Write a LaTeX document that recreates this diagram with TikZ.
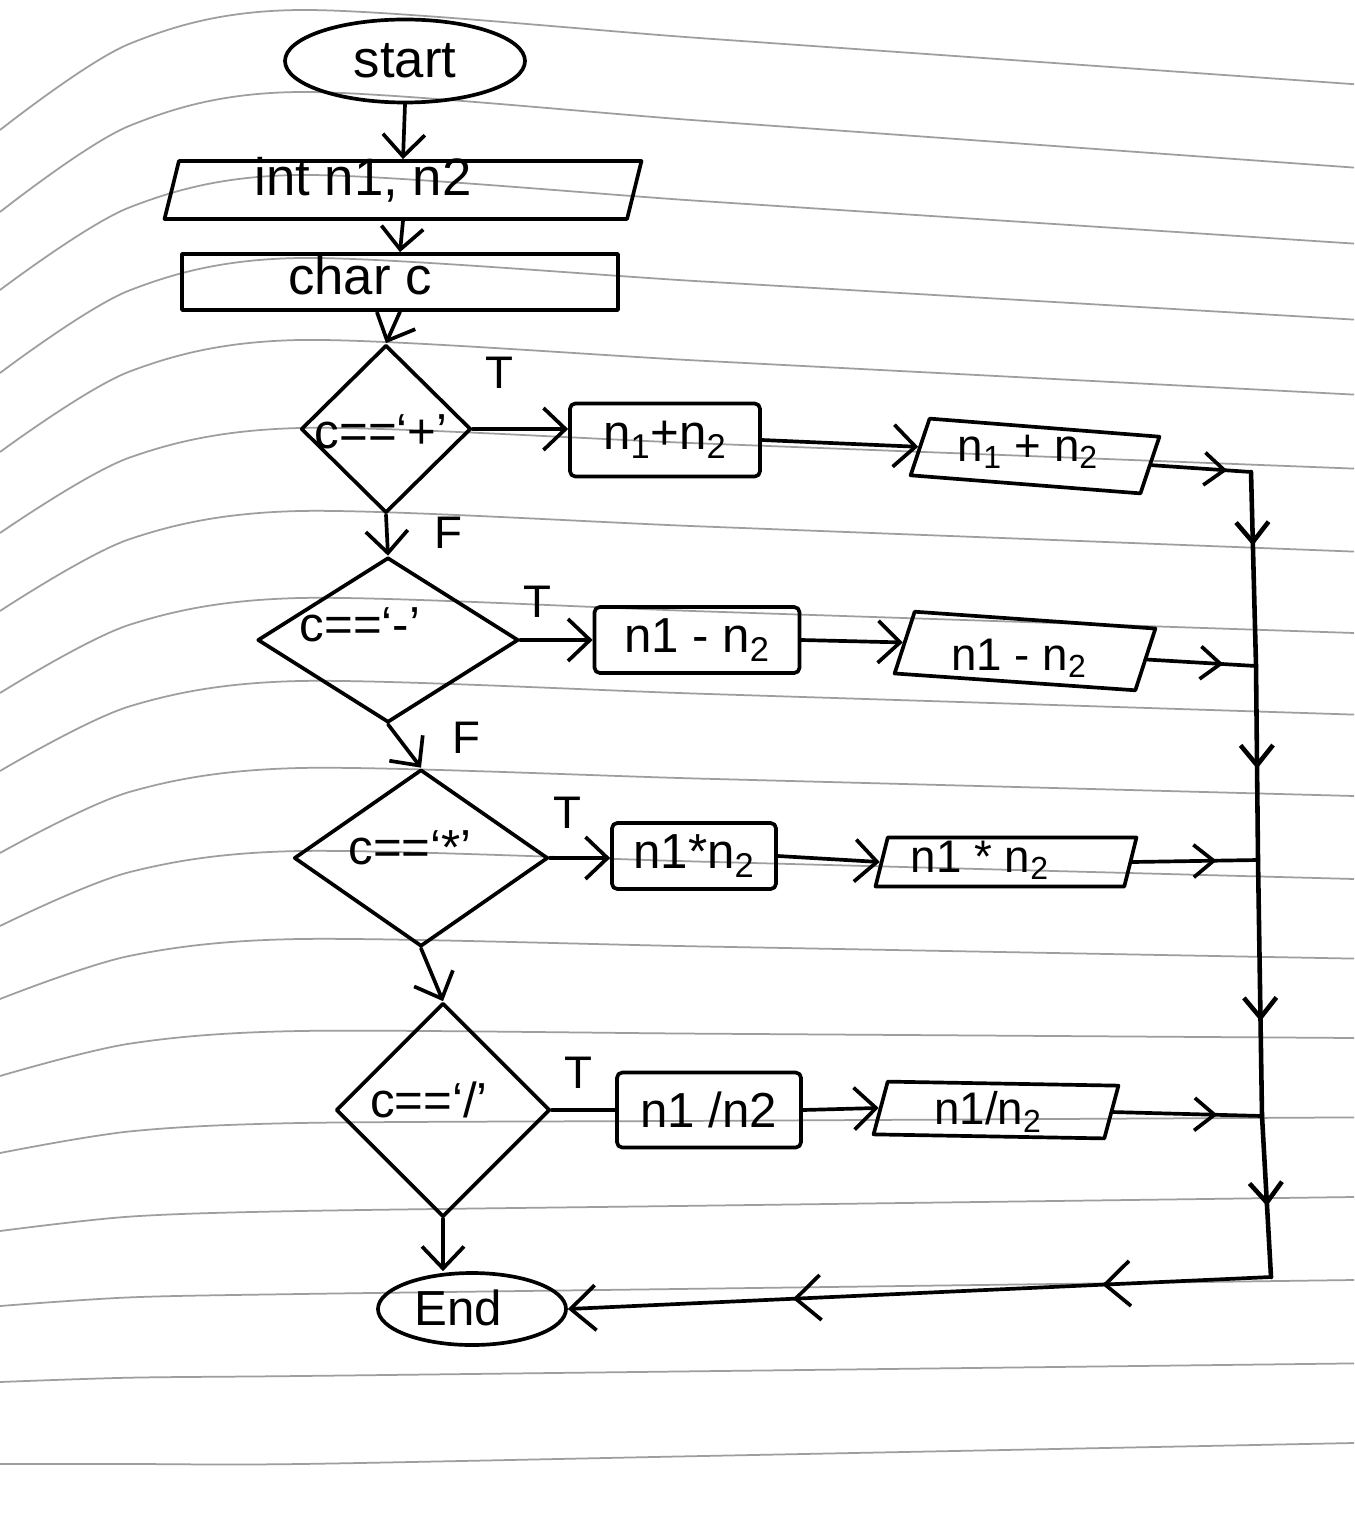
\documentclass[tikz,border=0pt]{standalone}
\usepackage{fontspec}
\setmainfont{Liberation Sans}
\usetikzlibrary{shapes.geometric, arrows.meta, decorations.markings}

\tikzset{
  stroke/.style={line width=2.1pt, draw=black, line cap=round, line join=round},
  rule/.style={line width=0.35mm, draw=black!38},
  term/.style={stroke, ellipse, inner sep=1pt},
  io/.style={stroke, trapezium, trapezium stretches body=true,
    trapezium left angle=76, trapezium right angle=104,
    inner xsep=2pt, inner ysep=0pt, text depth=0pt,
    minimum height=#1, text height=#1},
  proc/.style={stroke, rectangle, rounded corners=3pt, inner sep=0pt},
  decision/.style={stroke, diamond, inner sep=1pt},
  big/.style={font=\fontsize{30}{32}\selectfont, inner sep=0pt},
  mid/.style={font=\fontsize{28}{30}\selectfont, inner sep=0pt},
  small/.style={font=\fontsize{26}{28}\selectfont, inner sep=0pt},
  tf/.style={font=\fontsize{26}{28}\selectfont, inner sep=0pt},
  flow/.style={stroke, -{Straight Barb[length=4.4mm,width=8.4mm]}},
  spine/.style={stroke, line width=2.6pt},
  tipat/.style={postaction={decorate}, decoration={markings,
    mark=at position #1 with {\arrow{Straight Barb[length=4mm,width=6.5mm]}}}},
  tiptwo/.style 2 args={postaction={decorate}, decoration={markings,
    mark=at position #1 with {\arrow{Straight Barb[length=5mm,width=9mm]}},
    mark=at position #2 with {\arrow{Straight Barb[length=5mm,width=9mm]}}}},
}

\begin{document}
\begin{tikzpicture}[x=0.2mm, y=-0.2mm]
\useasboundingbox (0,0) rectangle (1354,1525);
\fill[white] (0,0) rectangle (1354,1525);

% ruled notebook lines (height at x=300 / drop at the right / curl at the left)
\foreach \a/\d/\l in {10/53/120, 92/54/120, 175/49/115, 258/44/115, 340/39/112,
  428/29/105, 511/29/100, 598/25/95, 681/24/90, 768/20/85, 851/20/75,
  939/14/60, 1031/5/45, 1123/-4/30, 1211/-10/20, 1294/-10/12, 1376/-9/6, 1464/-15/0}
  \draw[rule] plot[smooth] coordinates {(0,{\a+\l}) (130,{\a+0.28*\l}) (300,\a)
    (700,{\a+0.53*\d}) (1054,{\a+\d}) (1354,{\a+1.4*\d})};

% terminals, declarations
\node[term, big, minimum width=48mm, minimum height=16.6mm] (start) at (405,61) {start};
\node[io=11.6mm, minimum width=95.4mm] (int) at (403,190) {};
\node[big] (intt) at (363,180) {int n1, n2};
\node[stroke, rectangle, inner sep=0pt, minimum width=87.2mm, minimum height=11.2mm]
  (char) at (400,282) {};
\node[big] (chart) at (360,276) {char c};

% decisions
\node[decision, minimum width=34mm, minimum height=33.6mm] (d1) at (386,429) {};
\node[mid] (d1t) at (381,432) {c==`+'};
\node[decision, minimum width=52.2mm, minimum height=33mm] (d2) at (388,640) {};
\node[mid] (d2t) at (360,625) {c==`-'};
\node[decision, minimum width=50.8mm, minimum height=35.4mm] (d3) at (421,858) {};
\node[mid] (d3t) at (410,848) {c==`*'};
\node[decision, minimum width=42.8mm, minimum height=42.8mm] (d4) at (443,1110) {};
\node[mid] (d4t) at (429,1100) {c==`/'};

% computations
\node[proc, mid, minimum width=38mm, minimum height=14.6mm] (box1) at (665,440)
  {n\textsubscript{1}+n\textsubscript{2}};
\node[proc, mid, minimum width=41mm, minimum height=13.2mm] (box2) at (697,640)
  {n1 - n\textsubscript{2}};
\node[proc, mid, minimum width=32.8mm, minimum height=13.2mm] (box3) at (694,856)
  {n1*n\textsubscript{2}};
\node[proc, mid, minimum width=36.8mm, minimum height=15mm] (box4) at (709,1110)
  {n1 /n2};

% outputs
\node[io=11.6mm, rotate=-4.5, minimum width=49mm] (para1) at (1035,456) {};
\node[small] (para1t) at (1028,452) {n\textsubscript{1} + n\textsubscript{2}};
\node[io=12.6mm, rotate=-4, minimum width=51.4mm] (para2) at (1025,651) {};
\node[small] (para2t) at (1019,658) {n1 - n\textsubscript{2}};
\node[io=9.8mm, minimum width=52.2mm] (para3) at (1006,862) {};
\node[small] (para3t) at (980,860) {n1 * n\textsubscript{2}};
\node[io=10.6mm, rotate=-1, minimum width=48.8mm] (para4) at (996,1110) {};
\node[small] (para4t) at (988,1112) {n1/n\textsubscript{2}};

\node[term, minimum width=37.6mm, minimum height=14.4mm] (end) at (472,1309) {};
\node[mid] (endt) at (458,1308) {End};

% branch labels
\node[tf] (t1) at (499,373) {T};
\node[tf] (f1) at (448,533) {F};
\node[tf] (t2) at (537,602) {T};
\node[tf] (f2) at (466,738) {F};
\node[tf] (t3) at (567,813) {T};
\node[tf] (t4) at (578,1073) {T};

% collecting line on the right
\coordinate (j1) at (1251,472);
\coordinate (j2) at (1256,666);
\coordinate (j3) at (1258,860);
\coordinate (j4) at (1262,1116);
\coordinate (jc) at (1271,1277);

% main flow
\draw[flow] (start.south) -- (int.north);
\draw[flow] (int.south) -- (char.north);
\draw[flow] (char.south) -- (d1.north);

\draw[flow] (d1.east) -- (box1.west |- d1.east);
\draw[flow] (box1.east) -- (para1.west);
\draw[stroke, tipat=0.76] (para1.east) -- (j1);
\draw[flow] (d1.south) -- (d2.north);

\draw[flow] (d2.east) -- (box2.west |- d2.east);
\draw[flow] (box2.east) -- (para2.west);
\draw[stroke, tipat=0.7] (para2.east) -- (j2);
\draw[flow] (d2.south) -- (d3.north);

\draw[flow] (d3.east) -- (box3.west |- d3.east);
\draw[flow] (box3.east) -- (para3.west);
\draw[stroke, tipat=0.67] (para3.east) -- (j3);
\draw[flow] (d3.south) -- (d4.north);

\draw[stroke] (d4.east) -- (box4.west |- d4.east);
\draw[flow] (box4.east) -- (para4.west);
\draw[stroke, tipat=0.7] (para4.east) -- (j4);
\draw[flow] (d4.south) -- (end.north -| d4.south);

\draw[spine, tipat=0.38] (j1) -- (j2);
\draw[spine, tipat=0.53] (j2) -- (j3);
\draw[spine, tipat=0.63] (j3) -- (j4);
\draw[spine, tipat=0.56] (j4) -- (jc);
\draw[stroke, tiptwo={0.24}{0.68}, -{Straight Barb[length=5mm,width=9mm]}] (jc) -- (end.east);
\end{tikzpicture}
\end{document}
